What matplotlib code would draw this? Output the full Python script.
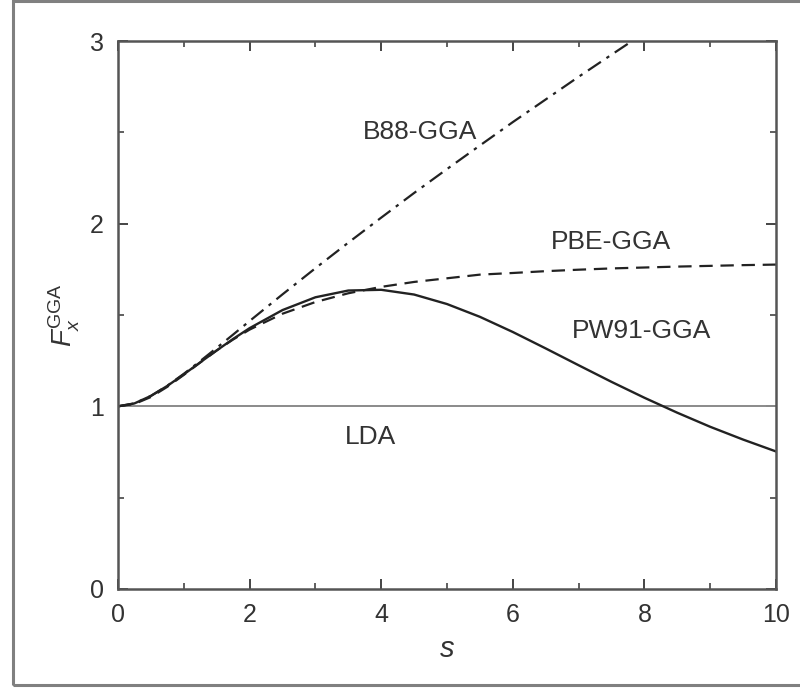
import matplotlib
matplotlib.use('Agg')
import matplotlib.pyplot as plt
from matplotlib.patches import Rectangle

plt.rcParams['font.family'] = ['Liberation Sans', 'DejaVu Sans']
plt.rcParams['mathtext.fontset'] = 'custom'
plt.rcParams['mathtext.rm'] = 'Liberation Sans'
plt.rcParams['mathtext.it'] = 'Liberation Sans:italic'

# reduced density gradient s and enhancement factors
s = [0, 0.25, 0.5, 0.75, 1, 1.25, 1.5, 1.75, 2, 2.5, 3, 3.5, 4, 4.5, 5,
     5.5, 6, 6.5, 7, 7.5, 8, 8.5, 9, 9.5, 10]
b88 = [1.0, 1.016, 1.057, 1.113, 1.178, 1.248, 1.320, 1.393, 1.467, 1.613,
       1.756, 1.896, 2.033, 2.168, 2.299, 2.428, 2.556, 2.680, 2.804, 2.925,
       3.045, 3.164, 3.281, 3.397, 3.512]
pbe = [1.0, 1.013, 1.051, 1.107, 1.172, 1.240, 1.306, 1.366, 1.420, 1.507,
       1.571, 1.619, 1.654, 1.681, 1.701, 1.721, 1.730, 1.740, 1.748, 1.755,
       1.760, 1.765, 1.769, 1.773, 1.776]
pw91 = [1.0, 1.016, 1.057, 1.112, 1.175, 1.241, 1.306, 1.369, 1.428, 1.527,
        1.597, 1.634, 1.638, 1.612, 1.560, 1.490, 1.407, 1.317, 1.225, 1.134,
        1.047, 0.965, 0.888, 0.818, 0.753]
lda = [1.0] * len(s)

labels = ['B88-GGA', 'PBE-GGA', 'PW91-GGA', 'LDA']
label_s = [4.59, 7.49, 7.95, 3.83]
label_f = [2.50, 1.90, 1.41, 0.83]

fig = plt.figure(figsize=(8, 6.88), dpi=100)
fig.patch.set_facecolor('white')
ax = fig.add_axes([0.1475, 0.1439, 0.8225, 0.7965])

ax.plot(s, lda, color='#8a8a8a', lw=1.4)
ax.plot(s, b88, color='#222222', lw=1.6, dashes=(7, 3, 1.5, 3))
ax.plot(s, pbe, color='#222222', lw=1.6, dashes=(6, 3.5))
ax.plot(s, pw91, color='#222222', lw=1.7)

for txt, xs, yf in zip(labels, label_s, label_f):
    ax.text(xs, yf, txt, ha='center', va='center', fontsize=19, color='#333333')

ax.set_xlim(0, 10)
ax.set_ylim(0, 3)
ax.set_xticks([0, 2, 4, 6, 8, 10])
ax.set_xticks([1, 3, 5, 7, 9], minor=True)
ax.set_yticks([0, 1, 2, 3])
ax.set_yticks([0.5, 1.5, 2.5], minor=True)
ax.tick_params(which='both', direction='in', top=True, right=True,
               color='#444444', labelsize=18, labelcolor='#333333')
ax.tick_params(which='major', length=7, width=1.4, pad=10)
ax.tick_params(which='minor', length=4, width=1.2)
for sp in ax.spines.values():
    sp.set_color('#555555')
    sp.set_linewidth(1.8)

ax.set_xlabel(r'$s$', fontsize=21, color='#333333', labelpad=6)
ax.set_ylabel(r'$F_x^{\mathrm{GGA}}$', fontsize=20, color='#333333', labelpad=6)

# outer frame around the figure
fig.patches.append(Rectangle((0.016, 0.0044), 1.2, 0.994, transform=fig.transFigure,
                             fill=False, edgecolor='#808080', lw=2.2, clip_on=False))

plt.savefig('out.png', dpi=100, facecolor=fig.get_facecolor())
plt.close(fig)
